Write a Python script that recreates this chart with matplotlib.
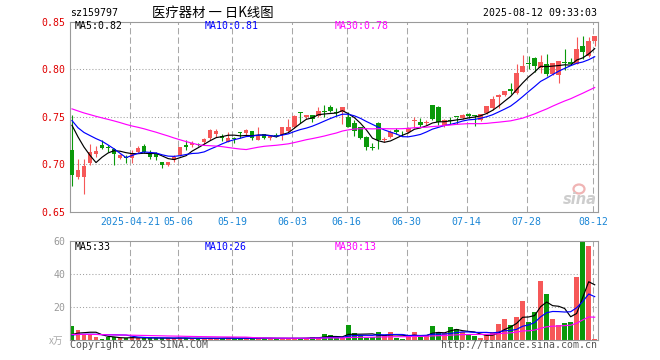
import matplotlib
matplotlib.use("Agg")
import matplotlib.pyplot as plt
from matplotlib.patches import Ellipse
import numpy as np
import pandas as pd

# ---------------- data ----------------
holidays = ["2025-05-01", "2025-05-02", "2025-05-05", "2025-06-02"]
dates = [d.strftime("%Y-%m-%d") for d in pd.bdate_range("2025-04-07", "2025-08-12")
         if d.strftime("%Y-%m-%d") not in holidays]

tick_dates = ["2025-04-21", "2025-05-06", "2025-05-19", "2025-06-03", "2025-06-16",
              "2025-06-30", "2025-07-14", "2025-07-28", "2025-08-12"]
tick_labels = ["2025-04-21", "05-06", "05-19", "06-03", "06-16",
               "06-30", "07-14", "07-28", "08-12"]

opens = [.7148, .6868, .6868, .7014, .7105, .7203, .7182, .7154, .7062, .7079,
         .7062, .7123, .7192, .7113, .7103, .7021, .6986, .7038, .7096, .7199,
         .7205, .7216, .7228, .7271, .7312, .7300, .7237, .7279, .7342, .7328,
         .7353, .7258, .7318, .7272, .7311, .7307, .7353, .7388, .7553, .7493,
         .7518, .7504, .7560, .7598, .7546, .7544, .7498, .7428, .7393, .7281,
         .7180, .7433, .7258, .7290, .7363, .7327, .7333, .7451, .7444, .7436,
         .7625, .7597, .7403, .7458, .7497, .7489, .7532, .7510, .7465, .7535,
         .7585, .7701, .7729, .7793, .7750, .7973, .8055, .8118, .8016, .8058,
         .7945, .7933, .8073, .8077, .8053, .8245, .8140, .8291]
highs = [.7517, .7050, .7050, .7210, .7186, .7251, .7199, .7164, .7106, .7096,
         .7147, .7188, .7216, .7147, .7123, .7021, .7027, .7096, .7182, .7257,
         .7243, .7223, .7270, .7370, .7374, .7318, .7335, .7283, .7342, .7370,
         .7353, .7395, .7318, .7307, .7328, .7395, .7475, .7521, .7553, .7518,
         .7518, .7605, .7623, .7626, .7591, .7605, .7546, .7468, .7395, .7300,
         .7220, .7440, .7288, .7363, .7378, .7353, .7393, .7495, .7488, .7465,
         .7626, .7614, .7474, .7500, .7500, .7525, .7542, .7514, .7532, .7613,
         .7711, .7736, .7771, .7852, .8057, .8144, .8135, .8130, .8146, .8158,
         .8062, .8080, .8210, .8120, .8340, .8350, .8333, .8344]
lows = [.6771, .6846, .6683, .6990, .7078, .7156, .7130, .6993, .7051, .7010,
        .7010, .7113, .7113, .7051, .7038, .6959, .6976, .7027, .7086, .7147,
        .7182, .7188, .7215, .7258, .7283, .7248, .7230, .7223, .7272, .7300,
        .7258, .7258, .7265, .7258, .7283, .7258, .7342, .7377, .7433, .7475,
        .7440, .7493, .7493, .7546, .7511, .7418, .7388, .7298, .7263, .7150,
        .7150, .7158, .7228, .7277, .7320, .7300, .7323, .7377, .7395, .7412,
        .7463, .7412, .7390, .7423, .7423, .7479, .7489, .7401, .7454, .7525,
        .7570, .7595, .7711, .7736, .7740, .7965, .8000, .7973, .7956, .7930,
        .7940, .7857, .7990, .8040, .8050, .8105, .8130, .8245]
closes = [.6890, .6942, .6983, .7124, .7139, .7172, .7164, .7106, .7096, .7062,
          .7120, .7164, .7130, .7072, .7079, .6986, .7021, .7079, .7175, .7182,
          .7226, .7199, .7262, .7361, .7344, .7279, .7272, .7265, .7325, .7363,
          .7272, .7300, .7272, .7293, .7293, .7395, .7395, .7511, .7535, .7518,
          .7475, .7556, .7550, .7563, .7539, .7604, .7393, .7344, .7274, .7182,
          .7173, .7253, .7265, .7342, .7333, .7323, .7379, .7456, .7412, .7442,
          .7474, .7438, .7463, .7455, .7492, .7514, .7507, .7505, .7525, .7606,
          .7684, .7729, .7765, .7772, .7962, .8035, .8050, .8027, .8070, .7944,
          .8062, .8080, .8066, .8053, .8210, .8175, .8291, .8344]
volumes = [8.6, 6.5, 3.5, 3.5, 2.2, 1.0, 1.8, 1.7, 1.2, 1.5,
           1.8, 1.2, 1.6, 1.2, 1.4, 1.2, 1.2, 1.2, 1.6, 1.2,
           0.8, 1.2, 1.2, 1.6, 1.2, 1.2, 1.6, 1.0, 1.2, 1.4,
           1.2, 1.2, 1.2, 1.2, 1.0, 1.2, 1.2, 1.2, 1.2, 1.4,
           2.2, 1.6, 3.5, 2.9, 1.2, 1.2, 9.0, 4.1, 2.9, 1.6,
           1.8, 5.3, 2.9, 4.7, 1.6, 1.0, 2.9, 5.3, 1.8, 2.9,
           8.4, 5.3, 4.1, 7.8, 7.1, 4.7, 3.1, 2.4, 1.6, 3.1,
           5.3, 9.8, 12.7, 9.2, 13.9, 23.7, 10.8, 16.9, 35.9, 28.0,
           12.7, 9.0, 10.2, 11.0, 38.0, 60.5, 56.7, 1.0]

# closes / volumes of the 29 sessions before the window (estimated, seed the moving averages)
prior_closes = [.760, .762, .765, .768, .766, .763, .760, .762, .764, .762,
                .758, .760, .762, .761, .759, .760, .772, .775, .774, .772,
                .770, .748, .745, .746, .745, .755, .752, .756, .752]
prior_volumes = [3.2, 4.1, 3.8, 3.5, 3.9, 4.4, 3.6, 3.3, 3.0, 3.7,
                 4.0, 3.4, 3.8, 3.5, 3.6, 3.9, 3.2, 3.5, 3.8, 3.1,
                 3.1, 2.8, 3.0, 2.7, 2.9, 2.4, 2.2, 2.1, 2.2]

ma_periods = [5, 10, 30]

# ---------------- style ----------------
RED = "#f65858"
GREEN = "#0a990a"
MA_COLORS = {5: "#000000", 10: "#0000ff", 30: "#ff00ff"}
FRAME = "#9a9a9a"
GRID = "#a8a8a8"
MONO = "DejaVu Sans Mono"
CJK = ["Noto Sans CJK SC", "DejaVu Sans"]
FS = 7.1

W, H = 660, 360
fig = plt.figure(figsize=(W / 100, H / 100), dpi=100)
fig.patch.set_facecolor("white")

L, R = 70.3, 597.7
ax = fig.add_axes([L / W, 1 - 211.6 / H, (R - L) / W, (211.6 - 21.5) / H])
axv = fig.add_axes([L / W, 1 - 340.3 / H, (R - L) / W, (340.3 - 240.7) / H])

n = len(closes)
x = np.arange(n)
o = np.array(opens); h = np.array(highs); lo = np.array(lows); c = np.array(closes)
v = np.array(volumes)
up = c >= o
cols = [RED if u else GREEN for u in up]

# moving averages
full_c = pd.Series(prior_closes + closes)
full_v = pd.Series(prior_volumes + volumes)
np_ = len(prior_closes)
ma_c = {p: full_c.rolling(p).mean().values[np_:] for p in ma_periods}
ma_v = {p: full_v.rolling(p).mean().values[np_:] for p in ma_periods}

tick_pos = np.array([dates.index(d) for d in tick_dates]) - 0.3

for a in (ax, axv):
    a.set_xlim(-0.28, 87.5)
    for s in a.spines.values():
        s.set_color(FRAME)
        s.set_linewidth(0.8)
    for tp in tick_pos:
        a.axvline(tp, color=GRID, lw=0.75, dashes=(6, 3), zorder=0)
    a.tick_params(length=0)

# price panel
ax.set_ylim(0.65, 0.85)
for yv in [0.70, 0.75, 0.80]:
    ax.axhline(yv, color="#a0a0a0", lw=0.75, dashes=(1, 2), zorder=0)
ax.vlines(x, lo, h, colors=cols, lw=0.8, zorder=2)
body_b = np.minimum(o, c)
body_h = np.maximum(np.abs(c - o), 0.0009)
ax.bar(x, body_h, bottom=body_b, width=0.74, color=cols, linewidth=0, zorder=3)
for p in ma_periods:
    ax.plot(x, ma_c[p], color=MA_COLORS[p], lw=0.85, zorder=4)

yt = [0.65, 0.70, 0.75, 0.80, 0.85]
ax.set_yticks(yt)
ax.set_yticklabels(["%.2f" % t for t in yt], color="#e00000", fontsize=FS, family=MONO)
ax.tick_params(axis="y", pad=3.3)
ax.set_xticks(tick_pos)
ax.set_xticklabels(tick_labels, color="#1a86d6", fontsize=FS, family=MONO)
ax.tick_params(axis="x", pad=3.6)

# volume panel
axv.set_ylim(0, 60)
for yv in [20, 40]:
    axv.axhline(yv, color="#a0a0a0", lw=0.75, dashes=(1, 2), zorder=0)
axv.bar(x, v, width=0.78, color=cols, linewidth=0, zorder=2)
for p in ma_periods:
    axv.plot(x, ma_v[p], color=MA_COLORS[p], lw=0.85, zorder=4)
axv.set_yticks([20, 40, 60])
axv.set_yticklabels(["20", "40", "60"], color="#999999", fontsize=FS, family=MONO)
axv.tick_params(axis="y", pad=3.3)
axv.set_xticks([])

# texts
def ftext(px, py, s, **kw):
    fig.text(px / W, 1 - py / H, s, **kw)

ftext(70, 12.8, "sz159797", fontsize=FS, family=MONO, ha="left", va="center", color="#000000")
ftext(213, 12.5, "医疗器材 一 日K线图", fontsize=9.6, family=CJK, ha="center", va="center", color="#000000")
ftext(597, 12.8, "2025-08-12 09:33:03", fontsize=FS, family=MONO, ha="right", va="center", color="#000000")

lab_x = {5: 75, 10: 205, 30: 335}
for p in ma_periods:
    ftext(lab_x[p], 26.3, "MA%d:%.2f" % (p, ma_c[p][-1]), fontsize=FS, family=MONO,
          ha="left", va="center", color=MA_COLORS[p])
    ftext(lab_x[p], 246.8, "MA%d:%d" % (p, int(ma_v[p][-1])), fontsize=FS, family=MONO,
          ha="left", va="center", color=MA_COLORS[p])

ftext(63, 341, "x万", fontsize=7, family=CJK, ha="right", va="center", color="#aaaaaa", style="italic")
ftext(70, 345.5, "Copyright 2025 SINA.COM", fontsize=FS, family=MONO, ha="left", va="center", color="#555555")
ftext(597, 345.5, "http://finance.sina.com.cn", fontsize=FS, family=MONO, ha="right", va="center", color="#555555")

# sina watermark (eye + word)
eye = Ellipse((579 / W, 1 - 189 / H), 11 / W, 9 / H, transform=fig.transFigure,
              fill=False, edgecolor="#f0b4b4", lw=1.6, zorder=1)
fig.add_artist(eye)
ftext(597, 199, "sina", fontsize=10.5, family="DejaVu Sans", weight="bold", style="italic",
      ha="right", va="center", color="#cdcdcd")

fig.savefig("out.png", dpi=100, facecolor="white")
